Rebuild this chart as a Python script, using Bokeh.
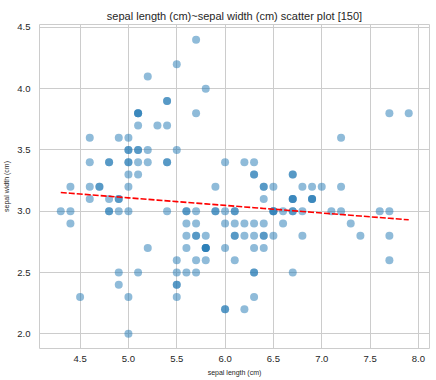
import numpy as np
from bokeh.plotting import figure
from bokeh.layouts import column
from bokeh.models import FixedTicker, NumeralTickFormatter, Range1d, Spacer
from bokeh.embed import file_html
from bokeh.resources import INLINE

sepal_length = [
    5.1, 4.9, 4.7, 4.6, 5.0, 5.4, 4.6, 5.0, 4.4, 4.9, 5.4, 4.8, 4.8, 4.3, 5.8, 5.7, 5.4, 5.1, 5.7, 5.1,
    5.4, 5.1, 4.6, 5.1, 4.8, 5.0, 5.0, 5.2, 5.2, 4.7, 4.8, 5.4, 5.2, 5.5, 4.9, 5.0, 5.5, 4.9, 4.4, 5.1,
    5.0, 4.5, 4.4, 5.0, 5.1, 4.8, 5.1, 4.6, 5.3, 5.0,
    7.0, 6.4, 6.9, 5.5, 6.5, 5.7, 6.3, 4.9, 6.6, 5.2, 5.0, 5.9, 6.0, 6.1, 5.6, 6.7, 5.6, 5.8, 6.2, 5.6,
    5.9, 6.1, 6.3, 6.1, 6.4, 6.6, 6.8, 6.7, 6.0, 5.7, 5.5, 5.5, 5.8, 6.0, 5.4, 6.0, 6.7, 6.3, 5.6, 5.5,
    5.5, 6.1, 5.8, 5.0, 5.6, 5.7, 5.7, 6.2, 5.1, 5.7,
    6.3, 5.8, 7.1, 6.3, 6.5, 7.6, 4.9, 7.3, 6.7, 7.2, 6.5, 6.4, 6.8, 5.7, 5.8, 6.4, 6.5, 7.7, 7.7, 6.0,
    6.9, 5.6, 7.7, 6.3, 6.7, 7.2, 6.2, 6.1, 6.4, 7.2, 7.4, 7.9, 6.4, 6.3, 6.1, 7.7, 6.3, 6.4, 6.0, 6.9,
    6.7, 6.9, 5.8, 6.8, 6.7, 6.7, 6.3, 6.5, 6.2, 5.9,
]
sepal_width = [
    3.5, 3.0, 3.2, 3.1, 3.6, 3.9, 3.4, 3.4, 2.9, 3.1, 3.7, 3.4, 3.0, 3.0, 4.0, 4.4, 3.9, 3.5, 3.8, 3.8,
    3.4, 3.7, 3.6, 3.3, 3.4, 3.0, 3.4, 3.5, 3.4, 3.2, 3.1, 3.4, 4.1, 4.2, 3.1, 3.2, 3.5, 3.6, 3.0, 3.4,
    3.5, 2.3, 3.2, 3.5, 3.8, 3.0, 3.8, 3.2, 3.7, 3.3,
    3.2, 3.2, 3.1, 2.3, 2.8, 2.8, 3.3, 2.4, 2.9, 2.7, 2.0, 3.0, 2.2, 2.9, 2.9, 3.1, 3.0, 2.7, 2.2, 2.5,
    3.2, 2.8, 2.5, 2.8, 2.9, 3.0, 2.8, 3.0, 2.9, 2.6, 2.4, 2.4, 2.7, 2.7, 3.0, 3.4, 3.1, 2.3, 3.0, 2.5,
    2.6, 3.0, 2.6, 2.3, 2.7, 3.0, 2.9, 2.9, 2.5, 2.8,
    3.3, 2.7, 3.0, 2.9, 3.0, 3.0, 2.5, 2.9, 2.5, 3.6, 3.2, 2.7, 3.0, 2.5, 2.8, 3.2, 3.0, 3.8, 2.6, 2.2,
    3.2, 2.8, 2.8, 2.7, 3.3, 3.2, 2.8, 3.0, 2.8, 3.0, 2.8, 3.8, 2.8, 2.8, 2.6, 3.0, 3.4, 3.1, 3.0, 3.1,
    3.1, 3.1, 2.7, 3.2, 3.3, 3.0, 2.5, 3.0, 3.4, 3.0,
]
x_ticks = [4.5, 5.0, 5.5, 6.0, 6.5, 7.0, 7.5, 8.0]
y_ticks = [2.0, 2.5, 3.0, 3.5, 4.0, 4.5]
title_text = "sepal length (cm)~sepal width (cm) scatter plot [150]"
x_label = "sepal length (cm)"
y_label = "sepal width (cm)"

xs = np.array(sepal_length)
ys = np.array(sepal_width)
slope, intercept = np.polyfit(xs, ys, 1)
fit_x = np.sort(xs)
fit_y = slope * fit_x + intercept

FONT = "Liberation Sans"
p = figure(frame_width=390, frame_height=324, output_backend="svg", toolbar_location=None,
           x_range=Range1d(4.08, 8.115), y_range=Range1d(1.88, 4.524),
           min_border_left=0, min_border_right=4, min_border_top=0, min_border_bottom=0)
p.title.text = title_text
p.title.align = "center"
p.title.text_font = FONT
p.title.text_font_size = "11px"
p.title.text_font_style = "normal"
p.title.text_color = "#262626"
p.title.text_line_height = 1.6
p.title.offset = 0
p.title.standoff = 5

p.scatter(xs, ys, size=8, fill_color="#1f77b4", fill_alpha=0.5, line_color=None)
p.line(fit_x, fit_y, line_color="red", line_width=1.6, line_dash="6 2")

p.xaxis.ticker = FixedTicker(ticks=x_ticks)
p.yaxis.ticker = FixedTicker(ticks=y_ticks)
p.xaxis.formatter = NumeralTickFormatter(format="0.0")
p.yaxis.formatter = NumeralTickFormatter(format="0.0")
p.xaxis.axis_label = x_label
p.yaxis.axis_label = y_label
for ax in (p.xaxis, p.yaxis):
    ax.axis_line_color = None
    ax.major_tick_line_color = None
    ax.minor_tick_line_color = None
    ax.major_tick_in = 0
    ax.major_tick_out = 0
    ax.minor_tick_in = 0
    ax.minor_tick_out = 0
    ax.major_label_text_font = FONT
    ax.major_label_text_font_size = "9.5px"
    ax.major_label_text_color = "#262626"
    ax.axis_label_text_font = FONT
    ax.axis_label_text_font_size = "7px"
    ax.axis_label_text_font_style = "normal"
    ax.axis_label_text_color = "#262626"
p.yaxis.major_label_standoff = 9
p.yaxis.axis_label_standoff = 4
p.xaxis.major_label_standoff = 7
p.xaxis.axis_label_standoff = 4
p.grid.grid_line_color = "#cccccc"
p.grid.grid_line_width = 1
p.outline_line_color = "#cccccc"
p.outline_line_width = 1
p.background_fill_color = "white"
p.border_fill_color = "white"

layout = column(Spacer(height=5), p, spacing=0)
open("out.html", "w").write(file_html(layout, INLINE))
